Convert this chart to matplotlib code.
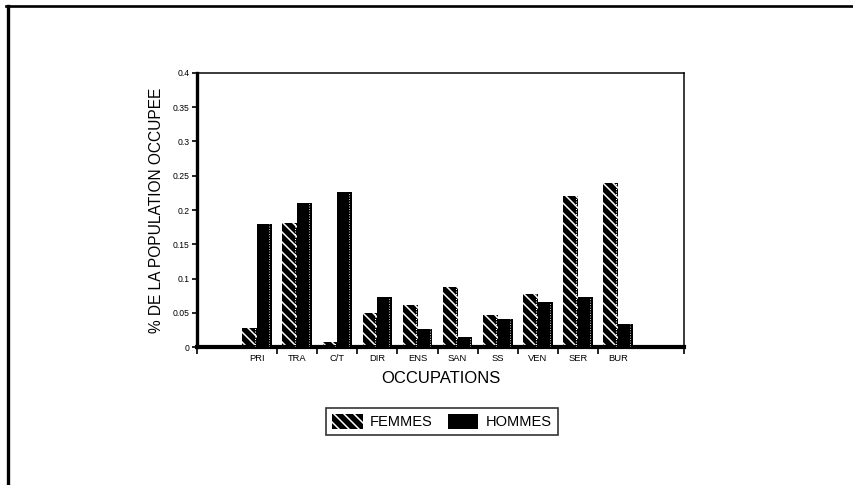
import numpy as np
import matplotlib.pyplot as plt
from matplotlib.lines import Line2D
from matplotlib.patches import Patch

occupations = ["PRI", "TRA", "C/T", "DIR", "ENS", "SAN", "SS", "VEN", "SER", "BUR"]
femmes = [0.028, 0.181, 0.007, 0.050, 0.062, 0.088, 0.047, 0.077, 0.220, 0.240]
hommes = [0.179, 0.210, 0.226, 0.073, 0.027, 0.015, 0.041, 0.065, 0.073, 0.034]
yticks = [0, 0.05, 0.1, 0.15, 0.2, 0.25, 0.3, 0.35, 0.4]
ytick_labels = ["0", "0.05", "0.1", "0.15", "0.2", "0.25", "0.3", "0.35", "0.4"]

plt.rcParams["font.family"] = ["Liberation Sans", "DejaVu Sans"]
plt.rcParams["hatch.linewidth"] = 0.9

dpi = 120
fig = plt.figure(figsize=(853 / dpi, 485 / dpi), dpi=dpi)
ax = fig.add_axes([0.231, 0.2845, 0.571, 0.565])

x = np.arange(1, len(occupations) + 1)
w = 0.37
stripes = "\\" * 4

# femmes: black with white diagonal stripes
ax.bar(x - w / 2, femmes, w, color="black", edgecolor="white", linewidth=0,
       hatch=stripes, zorder=2)
# hommes: solid black
ax.bar(x + w / 2, hommes, w, color="black", linewidth=0, zorder=2)

# dotted highlight near right edge of each bar
ax.vlines(x - 0.05, 0, femmes, colors="white", linestyles=(0, (1, 1.5)), lw=0.6, zorder=3)
ax.vlines(x + w - 0.07, 0, hommes, colors="#bbbbbb", linestyles=(0, (1, 1.5)), lw=0.6, zorder=3)

ax.set_xlim(-0.5, 11.65)
ax.set_ylim(0, 0.4)

ax.set_yticks(yticks)
ax.set_yticklabels(ytick_labels, fontsize=5.2)
ax.tick_params(axis="y", direction="out", length=3, width=1, pad=1.5)

ax.set_xticks(x)
ax.set_xticklabels(occupations, fontsize=5.6)
ax.tick_params(axis="x", which="major", length=0, pad=4)
ax.set_xticks(np.concatenate(([-0.5], np.arange(1.5, 10.5, 1.0), [11.65])), minor=True)
ax.tick_params(axis="x", which="minor", direction="out", length=4, width=1)

ax.spines["bottom"].set_linewidth(2.5)
ax.spines["left"].set_linewidth(2.0)
ax.spines["top"].set_linewidth(0.9)
ax.spines["right"].set_linewidth(0.9)

ax.set_xlabel("OCCUPATIONS", fontsize=10, labelpad=5)
ax.set_ylabel("% DE LA POPULATION OCCUPEE", fontsize=9.3, labelpad=5)

handles = [Patch(facecolor="black", edgecolor="white", linewidth=0, hatch=stripes),
           Patch(facecolor="black", linewidth=0)]
leg = fig.legend(handles, ["FEMMES", "HOMMES"], loc="center",
                 bbox_to_anchor=(0.518, 0.131), ncol=2, fontsize=8.8,
                 frameon=True, fancybox=False, handlelength=2.1, handleheight=1.2,
                 columnspacing=1.0, handletextpad=0.5, borderpad=0.4)
leg.get_frame().set_edgecolor("black")
leg.get_frame().set_linewidth(1.0)

# outer frame of the page
fig.add_artist(Line2D([0.007, 1.0], [0.988, 0.988], color="black", lw=1.6, transform=fig.transFigure))
fig.add_artist(Line2D([0.009, 0.009], [0.0, 0.988], color="black", lw=2.0, transform=fig.transFigure))

fig.savefig("out.png", dpi=dpi)
